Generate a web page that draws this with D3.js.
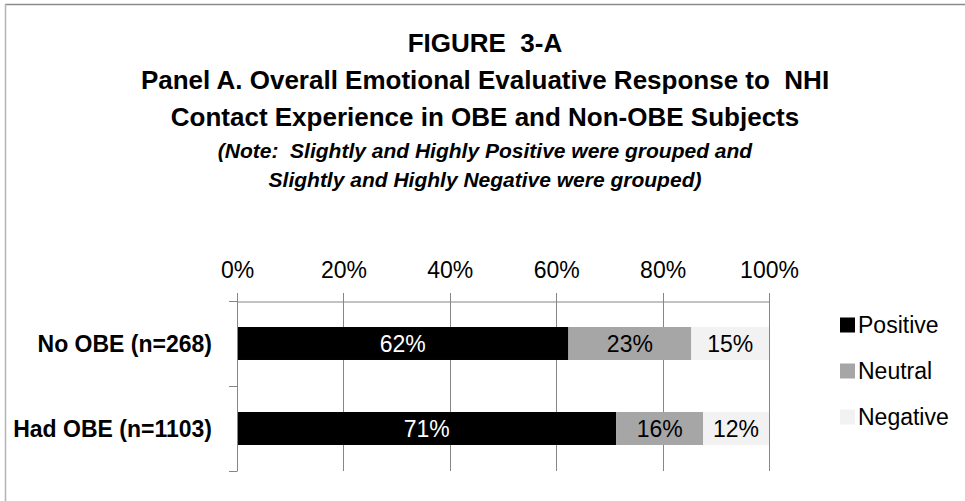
<!DOCTYPE html>
<html>
<head>
<meta charset="utf-8">
<script src="https://cdn.jsdelivr.net/npm/d3@7"></script>
<style>
  html, body { margin: 0; padding: 0; background: #fff; }
  svg { display: block; font-family: "Liberation Sans", Arial, sans-serif; }
  text { white-space: pre; }
</style>
</head>
<body>
<svg id="chart" width="965" height="501"></svg>
<script>
// ---- data ----
const categories = ["No OBE (n=268)", "Had OBE (n=1103)"];
const seriesNames = ["Positive", "Neutral", "Negative"];
const positive = [0.623, 0.713];
const neutral  = [0.231, 0.163];
const negative = [0.146, 0.124];
const tickValues = [0, 0.2, 0.4, 0.6, 0.8, 1.0];
const titleLines = [
  "FIGURE  3-A",
  "Panel A. Overall Emotional Evaluative Response to  NHI",
  "Contact Experience in OBE and Non-OBE Subjects"
];
const noteLines = [
  "(Note:  Slightly and Highly Positive were grouped and",
  "Slightly and Highly Negative were grouped)"
];

const colors = ["#000000", "#a6a6a6", "#f2f2f2"];
const labelColors = ["#ffffff", "#000000", "#000000"];

const svg = d3.select("#chart");

// frame (top and left edges)
svg.append("line").attr("x1", 5).attr("x2", 965).attr("y1", 4.5).attr("y2", 4.5)
  .attr("stroke", "#8a8a8a").attr("stroke-width", 1.5);
svg.append("line").attr("x1", 5.5).attr("x2", 5.5).attr("y1", 4).attr("y2", 501)
  .attr("stroke", "#b4b4b4").attr("stroke-width", 1.5);

// titles
const cx = 485;
const titleBase = [52, 89, 126];
titleLines.forEach((t, i) => {
  svg.append("text").attr("x", cx).attr("y", titleBase[i])
    .attr("xml:space", "preserve")
    .attr("text-anchor", "middle").attr("font-weight", "bold")
    .attr("font-size", 26).attr("fill", "#000").text(t);
});
const noteBase = [158, 187];
noteLines.forEach((t, i) => {
  svg.append("text").attr("x", cx).attr("y", noteBase[i])
    .attr("xml:space", "preserve")
    .attr("text-anchor", "middle").attr("font-weight", "bold").attr("font-style", "italic")
    .attr("font-size", 21).attr("fill", "#000").text(t);
});

// scales
const x = d3.scaleLinear().domain([0, 1]).range([237, 769]);
const y = d3.scaleBand().domain(categories).range([301, 471]).paddingInner(0.612).paddingOuter(0.306);

const stackData = categories.map((c, i) => ({ cat: c, Positive: positive[i], Neutral: neutral[i], Negative: negative[i] }));
const stack = d3.stack().keys(seriesNames)(stackData);

// gridlines (with ticks extending above top line)
const gridG = svg.append("g");
gridG.selectAll("line").data(tickValues).join("line")
  .attr("x1", d => Math.round(x(d)) + 0.5).attr("x2", d => Math.round(x(d)) + 0.5)
  .attr("y1", 293).attr("y2", 471)
  .attr("stroke", "#868686").attr("stroke-width", 1);

// top axis with labels
const xAxis = d3.axisTop(x).tickValues(tickValues).tickFormat(d3.format(".0%")).tickSize(0).tickPadding(0);
const xg = svg.append("g").attr("transform", "translate(0,301.5)").call(xAxis);
xg.select(".domain").attr("stroke", "#868686");
xg.selectAll("text").attr("font-size", 23).attr("font-family", "Liberation Sans, Arial, sans-serif")
  .attr("fill", "#000").attr("y", -24).attr("dy", 0);

// bars
const layers = svg.append("g").selectAll("g").data(stack).join("g")
  .attr("fill", (d, i) => colors[i]);
layers.selectAll("rect").data(d => d).join("rect")
  .attr("x", d => x(d[0])).attr("width", d => x(d[1]) - x(d[0]))
  .attr("y", d => y(d.data.cat)).attr("height", y.bandwidth());

// bar labels
stack.forEach((layer, li) => {
  svg.append("g").selectAll("text").data(layer).join("text")
    .attr("x", d => (x(d[0]) + x(d[1])) / 2)
    .attr("y", d => y(d.data.cat) + y.bandwidth() / 2)
    .attr("dy", "0.35em")
    .attr("text-anchor", "middle").attr("font-size", 23)
    .attr("fill", labelColors[li])
    .text(d => d3.format(".0%")(d[1] - d[0]));
});

// left axis (category)
const yAxisBounds = [301, 386, 471];
const yg = svg.append("g");
yg.append("line").attr("x1", 237.5).attr("x2", 237.5).attr("y1", 301).attr("y2", 471.5)
  .attr("stroke", "#868686");
yg.selectAll("line.tk").data(yAxisBounds).join("line").attr("class", "tk")
  .attr("x1", 229).attr("x2", 237).attr("y1", d => d + 0.5).attr("y2", d => d + 0.5)
  .attr("stroke", "#868686");
yg.selectAll("text").data(categories).join("text")
  .attr("x", 212).attr("y", d => y(d) + y.bandwidth() / 2).attr("dy", "0.35em")
  .attr("text-anchor", "end").attr("font-weight", "bold").attr("font-size", 23)
  .attr("fill", "#000").text(d => d);

// legend
const legendY = [325, 371, 417];
const lg = svg.append("g");
seriesNames.forEach((s, i) => {
  lg.append("rect").attr("x", 840).attr("y", legendY[i] - 7.5).attr("width", 15).attr("height", 15)
    .attr("fill", colors[i]);
  lg.append("text").attr("x", 858).attr("y", legendY[i]).attr("dy", "0.35em")
    .attr("font-size", 23).attr("fill", "#000").text(s);
});
</script>
</body>
</html>
